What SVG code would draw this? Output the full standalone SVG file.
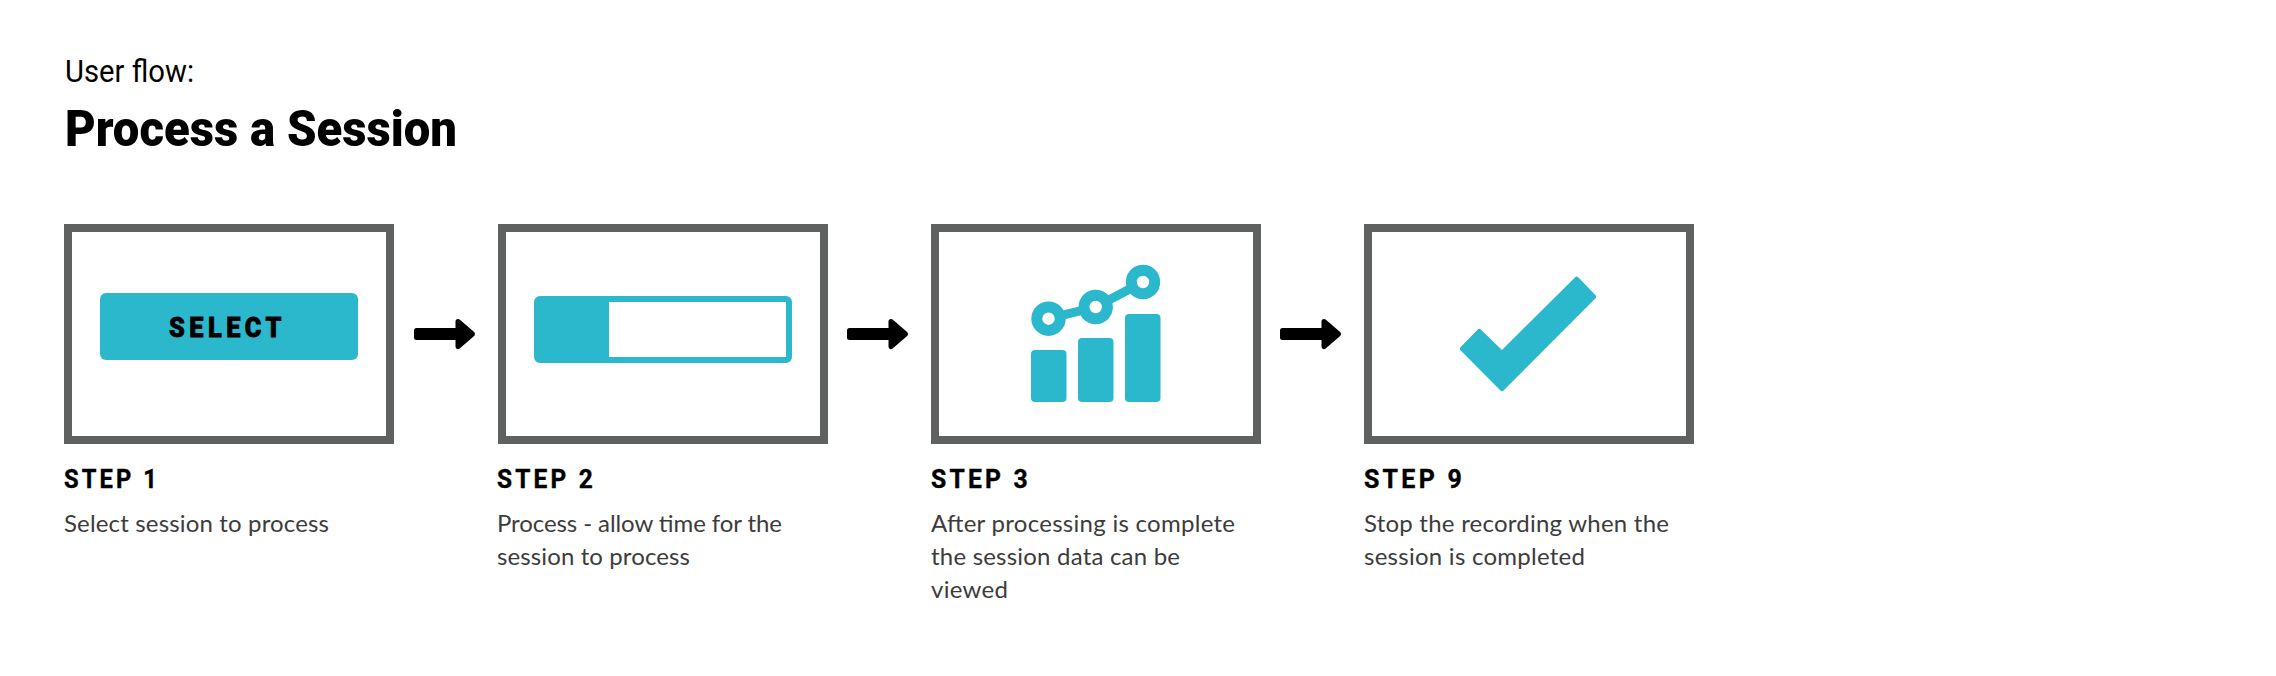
<svg xmlns="http://www.w3.org/2000/svg" width="2276" height="676" viewBox="0 0 2276 676">
<defs>
<style>
.frame{fill:#fff;stroke:#5f6060;stroke-width:8}
.teal{fill:#2bb8cd}
.ring{fill:#fff;stroke:#2bb8cd;stroke-width:11}
.head{font-family:"Roboto","Liberation Sans",sans-serif;font-weight:700;font-size:26px;letter-spacing:3.4px;fill:#000;stroke:#000;stroke-width:.4}
.desc{font-family:"Lato","Noto Sans",sans-serif;font-size:24px;fill:#3c3c3c}
.arrow{fill:#000;stroke:#000;stroke-width:5;stroke-linejoin:round}
</style>
<path id="arr" class="arrow" d="M2.500 -3.500H44V-12.500L58.500 0L44 12.500V3.500H2.500Z"/>
</defs>
<rect width="2276" height="676" fill="#fff"/>
<g id="title">
<text x="65" y="82" font-family="Roboto,'Liberation Sans',sans-serif" font-size="31" fill="#000" textLength="129" lengthAdjust="spacingAndGlyphs">User flow:</text>
<text x="65" y="146" font-family="Roboto,'Liberation Sans',sans-serif" font-weight="900" font-size="50" fill="#000" textLength="392" lengthAdjust="spacingAndGlyphs">Process a Session</text>
</g>
<g id="step1">
<rect class="frame" x="68" y="228" width="322" height="212"/>
<rect class="teal" x="100" y="293" width="258" height="67" rx="6"/>
<text x="169" y="337" font-family="Roboto,'Liberation Sans',sans-serif" font-weight="900" font-size="28" fill="#000" stroke="#000" stroke-width=".8" letter-spacing="5" textLength="117" lengthAdjust="spacingAndGlyphs">SELECT</text>
<text class="head" x="64" y="488" textLength="96" lengthAdjust="spacingAndGlyphs">STEP 1</text>
<text class="desc" x="64" y="532" textLength="265">Select session to process</text>
</g>
<g id="step2">
<rect class="frame" x="502" y="228" width="322" height="212"/>
<path class="teal" fill-rule="evenodd" d="M540 296H786a6 6 0 0 1 6 6V357a6 6 0 0 1-6 6H540a6 6 0 0 1-6-6V302a6 6 0 0 1 6-6ZM609 302V357H786V302Z"/>
<text class="head" x="497" y="488" textLength="99" lengthAdjust="spacingAndGlyphs">STEP 2</text>
<text class="desc" x="497" y="532" textLength="285">Process - allow time for the</text>
<text class="desc" x="497" y="565" textLength="193">session to process</text>
</g>
<g id="step3">
<rect class="frame" x="935" y="228" width="322" height="212"/>
<rect class="teal" x="1031" y="350" width="35.5" height="52" rx="4"/>
<rect class="teal" x="1078" y="338" width="35.5" height="64" rx="4"/>
<rect class="teal" x="1125" y="314" width="35.5" height="88" rx="4"/>
<path d="M1048.5 318.700L1095.700 307L1143 282" fill="none" stroke="#2bb8cd" stroke-width="9"/>
<circle class="ring" cx="1048.500" cy="318.700" r="11.700"/>
<circle class="ring" cx="1095.700" cy="307" r="11.700"/>
<circle class="ring" cx="1143" cy="282" r="11.700"/>
<text class="head" x="931" y="488" textLength="100" lengthAdjust="spacingAndGlyphs">STEP 3</text>
<text class="desc" x="931" y="532" textLength="304">After processing is complete</text>
<text class="desc" x="931" y="565" textLength="249">the session data can be</text>
<text class="desc" x="931" y="598" textLength="77">viewed</text>
</g>
<g id="step9">
<rect class="frame" x="1368" y="228" width="322" height="212"/>
<path class="teal" stroke="#2bb8cd" stroke-width="5" stroke-linejoin="round" d="M1576.700 279.200L1593.500 296.700L1502 388.500L1462.500 348.700L1479.300 331.500L1502 353.500Z"/>
<text class="head" x="1364" y="488" textLength="101" lengthAdjust="spacingAndGlyphs">STEP 9</text>
<text class="desc" x="1364" y="532" textLength="305">Stop the recording when the</text>
<text class="desc" x="1364" y="565" textLength="221">session is completed</text>
</g>
<g id="connectors">
<use href="#arr" x="414" y="334"/>
<use href="#arr" x="847" y="334"/>
<use href="#arr" x="1280" y="334"/>
</g>
</svg>
